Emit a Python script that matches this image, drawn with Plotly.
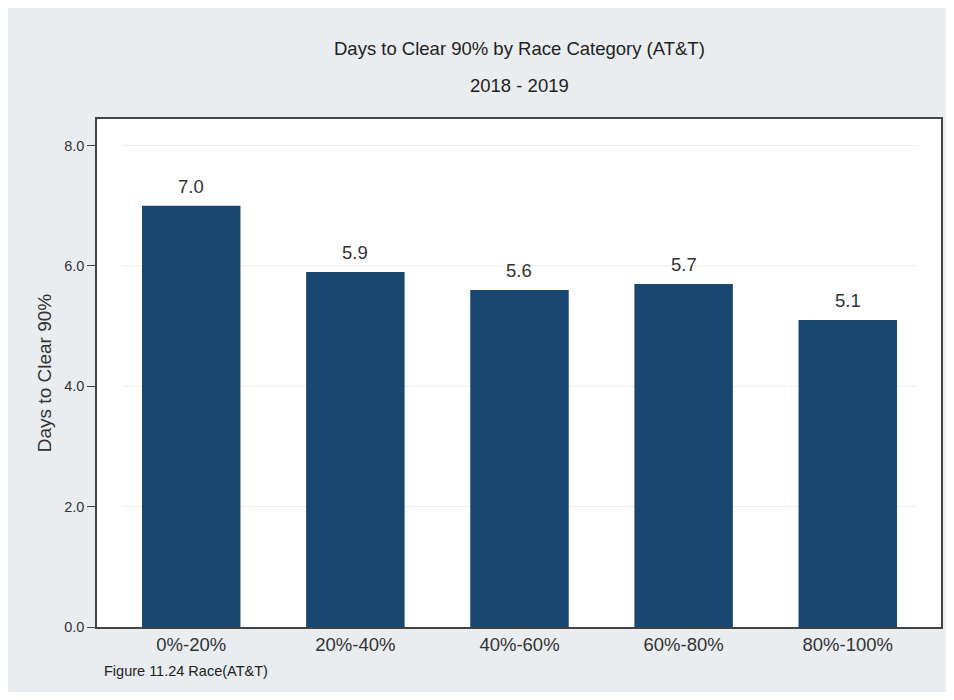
import plotly.graph_objects as go

# data
categories = ['0%-20%', '20%-40%', '40%-60%', '60%-80%', '80%-100%']
days_to_clear = [7.0, 5.9, 5.6, 5.7, 5.1]
y_ticks = [0.0, 2.0, 4.0, 6.0, 8.0]

title = 'Days to Clear 90% by Race Category (AT&T)'
subtitle = '2018 - 2019'
y_title = 'Days to Clear 90%'
caption = 'Figure 11.24 Race(AT&T)'

# the page body adds an 8px margin, so keep the figure inside the window
OFF = 8
W, H = 954 - 2 * OFF, 700 - 2 * OFF
L, T = 97 - OFF, 119 - OFF
R, B = (OFF + W) - 943, (OFF + H) - 627
pw, ph = W - L - R, H - T - B


def px_x(x):
    # page pixel -> paper coordinate
    return (x - OFF - L) / pw


def px_y(y):
    return (H - (y - OFF) - B) / ph


bar_color = '#1a476f'
bg = '#e9edf0'
font = 'Liberation Sans, Arial, sans-serif'

fig = go.Figure()
fig.add_trace(go.Bar(
    x=list(range(len(categories))),
    y=days_to_clear,
    width=0.6,
    marker=dict(color=bar_color, line=dict(width=0)),
    showlegend=False,
    hoverinfo='x+y',
))

shapes = []
# stata-style gridlines that stop short of the frame
for t in y_ticks[1:]:
    shapes.append(dict(type='line', xref='paper', yref='y', layer='below',
                       x0=0.03, x1=0.97, y0=t, y1=t,
                       line=dict(color='#ececec', width=1)))

annotations = []
for i, v in enumerate(days_to_clear):
    annotations.append(dict(x=i, y=v, xref='x', yref='y', text=f'{v:.1f}',
                            showarrow=False, yanchor='bottom', yshift=7,
                            font=dict(size=18.5, color='#333', family=font)))
annotations += [
    dict(x=0.5, y=px_y(48), xref='paper', yref='paper', text=title,
         showarrow=False, yanchor='middle',
         font=dict(size=18.5, color='#222', family=font)),
    dict(x=0.5, y=px_y(86), xref='paper', yref='paper', text=subtitle,
         showarrow=False, yanchor='middle',
         font=dict(size=18.5, color='#222', family=font)),
    dict(x=px_x(102), y=px_y(671), xref='paper', yref='paper',
         text=caption, showarrow=False, xanchor='left', yanchor='middle',
         font=dict(size=14.5, color='#222', family=font)),
]

fig.update_layout(
    width=W, height=H,
    margin=dict(l=L, r=R, t=T, b=B),
    paper_bgcolor=bg,
    plot_bgcolor='white',
    shapes=shapes,
    annotations=annotations,
    xaxis=dict(
        range=[-0.574, 4.568],
        tickmode='array', tickvals=list(range(len(categories))), ticktext=categories,
        ticks='', showgrid=False, zeroline=False,
        showline=True, linecolor='#444', linewidth=1.5, mirror=True,
        tickfont=dict(size=18.5, color='#333', family=font),
    ),
    yaxis=dict(
        range=[0, 8.44],
        tickmode='array', tickvals=y_ticks, ticktext=[f'{t:.1f}' for t in y_ticks],
        ticks='outside', ticklen=8, tickcolor='#444', tickwidth=1.2,
        showgrid=False, zeroline=False,
        showline=True, linecolor='#444', linewidth=1.5, mirror=True,
        tickfont=dict(size=14.5, color='#333', family=font),
        title=dict(text=y_title, standoff=8,
                   font=dict(size=19, color='#333', family=font)),
    ),
)

fig.write_html('out.html')
